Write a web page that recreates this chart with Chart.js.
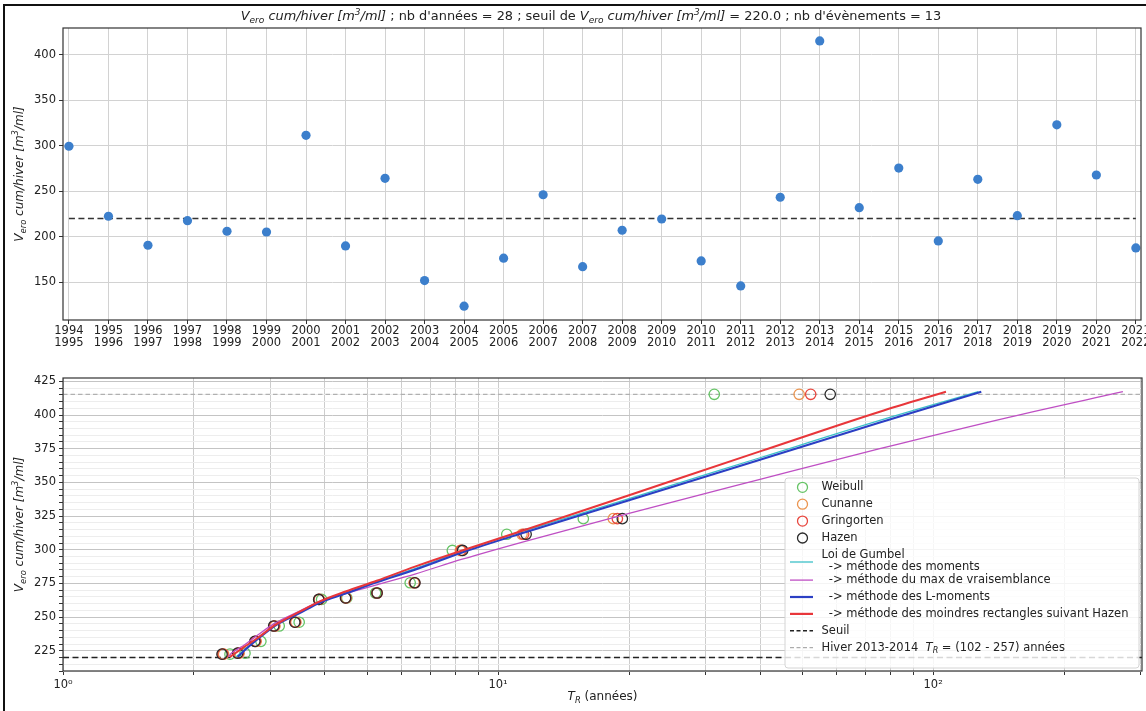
<!DOCTYPE html>
<html>
<head>
<meta charset="utf-8">
<script src="https://cdn.jsdelivr.net/npm/chart.js@4.4.1/dist/chart.umd.min.js"></script>
<style>
html, body { margin: 0; padding: 0; background: #fff; overflow: hidden; width: 1146px; height: 711px; }
#frame { position: absolute; left: 3px; top: 4px; width: 1200px; height: 800px; border-left: 2px solid #111; border-top: 2px solid #111; }
#top { position: absolute; left: 0; top: 0; }
#bot { position: absolute; left: 0; top: 350px; }
</style>
</head>
<body>
<div id="frame"></div>
<canvas id="top" width="1160" height="350"></canvas>
<canvas id="bot" width="1160" height="361"></canvas>
<script>
// hivers 1994-1995 ... 2021-2022
var years = [1994, 1995, 1996, 1997, 1998, 1999, 2000, 2001, 2002, 2003, 2004, 2005, 2006, 2007,
             2008, 2009, 2010, 2011, 2012, 2013, 2014, 2015, 2016, 2017, 2018, 2019, 2020, 2021];
var volumes = [299.5, 222.5, 190.6, 217.7, 206.0, 205.2, 311.5, 189.9, 264.2, 151.8, 123.6, 176.4, 246.2, 167.1,
               207.1, 219.5, 173.4, 145.9, 243.4, 415.4, 232.0, 275.5, 195.4, 263.1, 223.2, 323.1, 267.9, 187.7];
var seuil = 220.0;

// evenements au dessus du seuil, tries
var events = [415.4, 323.1, 311.5, 299.5, 275.5, 267.9, 264.2, 263.1, 246.2, 243.4, 232.0, 223.2, 222.5];
var trWeibull = [31.4, 15.7, 10.47, 7.85, 6.28, 5.23, 4.49, 3.93, 3.49, 3.14, 2.85, 2.62, 2.42];
var trCunnane = [49.2, 18.4, 11.35, 8.19, 6.41, 5.27, 4.47, 3.88, 3.43, 3.07, 2.78, 2.54, 2.34];
var trGringorten = [52.3, 18.8, 11.45, 8.23, 6.43, 5.27, 4.47, 3.88, 3.42, 3.06, 2.77, 2.53, 2.33];
var trHazen = [58.0, 19.3, 11.6, 8.29, 6.44, 5.27, 4.46, 3.87, 3.41, 3.05, 2.76, 2.52, 2.32];

// lois de Gumbel
var trMoments = [2.5, 2.65, 2.8, 3.07, 3.5, 3.88, 4.46, 5.26, 6.44, 8.27, 11.6, 20, 40, 75.4, 127];
var vMoments = [220.5, 227.5, 234, 244, 253.5, 261, 268, 276.5, 286, 299, 314.3, 338, 368.3, 396, 417.3];
var trMaxVrais = [2.4, 2.44, 2.59, 2.77, 3.07, 3.5, 3.88, 4.46, 5.26, 6.44, 8.27, 11.6, 20, 40, 75.4, 150, 273];
var vMaxVrais = [220.5, 223.3, 228.5, 235.5, 245.5, 254.5, 261.5, 267.5, 274, 282, 293, 306.5, 327, 352.2, 375, 398.5, 417.3];
var trLMoments = [2.52, 2.65, 2.8, 3.07, 3.5, 3.88, 4.46, 5.26, 6.44, 8.27, 11.6, 20, 40, 75.4, 129];
var vLMoments = [220.5, 227, 233.5, 243.5, 253, 260.5, 267.5, 275.8, 285.2, 298, 313.2, 336.8, 366.8, 394.5, 417.3];
var trHazenLS = [2.42, 2.6, 2.8, 3.07, 3.5, 3.88, 4.46, 5.26, 6.44, 8.27, 11.6, 20, 40, 75.4, 107];
var vHazenLS = [220.5, 227.5, 234.5, 244, 254, 261.5, 269, 277, 287.5, 299.5, 315, 340.5, 373, 402.5, 417.3];

var trRange = [102, 257];
var topTicks = [150, 200, 250, 300, 350, 400];
var logTicks = [1, 2, 3, 4, 5, 6, 7, 8, 9, 10, 20, 30, 40, 50, 60, 70, 80, 90, 100, 200, 300];

var FONT = '"DejaVu Sans", sans-serif';
var tickFont = { family: FONT, size: 11.5 };
var textCol = '#222';

function pts(xs, ys) { return xs.map(function(x, i) { return { x: x, y: ys[i] }; }); }

function fontFor(r, size) {
    var s = (r.sub || r.sup) ? size * 0.7 : size;
    return (r.it ? 'italic ' : '') + s + 'px ' + FONT;
}
function richWidth(ctx, runs, size) {
    var w = 0;
    runs.forEach(function(r) { ctx.font = fontFor(r, size); w += ctx.measureText(r.t).width; });
    return w;
}
function drawRich(ctx, runs, x, y, size, align) {
    var w = richWidth(ctx, runs, size);
    var cx = align === 'center' ? x - w / 2 : x;
    ctx.textBaseline = 'middle';
    ctx.textAlign = 'left';
    runs.forEach(function(r) {
        ctx.font = fontFor(r, size);
        var dy = r.sub ? size * 0.3 : (r.sup ? -size * 0.35 : 0);
        ctx.fillText(r.t, cx, y + dy);
        cx += ctx.measureText(r.t).width;
    });
}
var vLabel = [{ t: 'V', it: true }, { t: 'ero', it: true, sub: true }, { t: ' cum/hiver [m', it: true },
              { t: '3', it: true, sup: true }, { t: '/ml]', it: true }];

function drawBox(chart) {
    var a = chart.chartArea, ctx = chart.ctx;
    ctx.save();
    ctx.strokeStyle = '#333';
    ctx.lineWidth = 1.2;
    ctx.strokeRect(a.left, a.top, a.right - a.left, a.bottom - a.top);
    ctx.restore();
}

// ---------- graphe du haut ----------
var topPlugin = {
    id: 'topdeco',
    afterDraw: function(chart) {
        var ctx = chart.ctx, a = chart.chartArea;
        drawBox(chart);
        ctx.save();
        ctx.fillStyle = textCol;
        var title = vLabel.concat([{ t: " ; nb d'années = " + years.length + ' ; seuil de ' }])
            .concat(vLabel).concat([{ t: ' = ' + seuil.toFixed(1) + " ; nb d'évènements = " + events.length }]);
        drawRich(ctx, title, 591, 17, 12.9, 'center');
        ctx.translate(20, (a.top + a.bottom) / 2);
        ctx.rotate(-Math.PI / 2);
        drawRich(ctx, vLabel, 0, 0, 12, 'center');
        ctx.restore();
    }
};

new Chart(document.getElementById('top'), {
    type: 'scatter',
    data: {
        datasets: [{
            data: pts(years, volumes),
            backgroundColor: '#3c7fcc',
            borderColor: '#3c7fcc',
            pointRadius: 4.6,
            pointHoverRadius: 4.6,
            borderWidth: 0
        }, {
            type: 'line',
            data: [{ x: years[0], y: seuil }, { x: years[years.length - 1], y: seuil }],
            borderColor: '#333',
            borderWidth: 1.5,
            borderDash: [6, 3.5],
            pointRadius: 0,
            fill: false
        }]
    },
    options: {
        responsive: false,
        animation: false,
        layout: { padding: { left: 0, right: 19, top: 28, bottom: 0 } },
        plugins: { legend: { display: false }, tooltip: { enabled: false } },
        scales: {
            x: {
                type: 'linear', min: 1993.85, max: 2021.13,
                afterBuildTicks: function(s) { s.ticks = years.map(function(v) { return { value: v }; }); },
                afterFit: function(s) { s.height = 30; },
                ticks: {
                    autoSkip: false, maxRotation: 0, minRotation: 0, padding: 1,
                    font: { family: FONT, size: 11.5, lineHeight: 1.05 }, color: textCol,
                    callback: function(v) { return [String(v), String(v + 1)]; }
                },
                grid: { color: '#d2d2d2', tickLength: 4, tickColor: '#333' },
                border: { display: false }
            },
            y: {
                min: 108.4, max: 429.6,
                afterBuildTicks: function(s) { s.ticks = topTicks.map(function(v) { return { value: v }; }); },
                afterFit: function(s) { s.width = 63; },
                ticks: { font: tickFont, color: textCol, padding: 3 },
                grid: { color: '#d2d2d2', tickLength: 4, tickColor: '#333' },
                border: { display: false }
            }
        }
    },
    plugins: [topPlugin]
});

// ---------- graphe du bas ----------
var colWeibull = '#66c466', colCunnane = '#eb9550', colGringorten = '#e8473f', colHazen = '#2b2b2b';
var colMoments = '#3cc0c8', colMaxVrais = '#bf4fc4', colLMoments = '#2b3fc4', colHazenLS = '#e8363a';

function circles(xs, col) {
    return {
        data: pts(xs, events), showLine: false,
        pointStyle: 'circle', pointRadius: 5.2, pointHoverRadius: 5.2,
        pointBorderWidth: 1.3, pointBackgroundColor: 'rgba(0,0,0,0)', pointBorderColor: col,
        borderColor: col, backgroundColor: 'rgba(0,0,0,0)'
    };
}
function curve(xs, ys, col, w) {
    return {
        type: 'line', data: pts(xs, ys), borderColor: col, borderWidth: w,
        pointRadius: 0, fill: false, cubicInterpolationMode: 'monotone'
    };
}

var legendItems = [
    { kind: 'o', col: colWeibull, text: ['Weibull'] },
    { kind: 'o', col: colCunnane, text: ['Cunanne'] },
    { kind: 'o', col: colGringorten, text: ['Gringorten'] },
    { kind: 'o', col: colHazen, text: ['Hazen'] },
    { kind: '-', col: colMoments, w: 1.3, text: ['Loi de Gumbel', '  -> méthode des moments'] },
    { kind: '-', col: colMaxVrais, w: 1.3, text: ['  -> méthode du max de vraisemblance'] },
    { kind: '-', col: colLMoments, w: 2.2, text: ['  -> méthode des L-moments'] },
    { kind: '-', col: colHazenLS, w: 2.2, text: ['  -> méthode des moindres rectangles suivant Hazen'] },
    { kind: '--', col: '#222', w: 1.5, text: ['Seuil'] },
    { kind: '--', col: '#999', w: 1, text: ['Hiver 2013-2014'], tr: true }
];

var botPlugin = {
    id: 'botdeco',
    afterDraw: function(chart) {
        var ctx = chart.ctx, a = chart.chartArea;
        drawBox(chart);
        ctx.save();
        ctx.fillStyle = textCol;
        ctx.translate(20, (a.top + a.bottom) / 2);
        ctx.rotate(-Math.PI / 2);
        drawRich(ctx, vLabel, 0, 0, 12, 'center');
        ctx.restore();

        ctx.save();
        ctx.fillStyle = textCol;
        drawRich(ctx, [{ t: 'T', it: true }, { t: 'R', it: true, sub: true }, { t: ' (années)' }],
                 (a.left + a.right) / 2, 347, 12, 'center');
        ctx.restore();

        // legende
        var bx = 785, by = 128, bw = 354, bh = 190, rad = 3;
        ctx.save();
        ctx.beginPath();
        ctx.moveTo(bx + rad, by);
        ctx.arcTo(bx + bw, by, bx + bw, by + bh, rad);
        ctx.arcTo(bx + bw, by + bh, bx, by + bh, rad);
        ctx.arcTo(bx, by + bh, bx, by, rad);
        ctx.arcTo(bx, by, bx + bw, by, rad);
        ctx.closePath();
        ctx.fillStyle = 'rgba(255,255,255,0.82)';
        ctx.fill();
        ctx.strokeStyle = '#d4d4d4';
        ctx.lineWidth = 1;
        ctx.stroke();

        var y = 137.3, step = 16.9, tx = 821.5;
        legendItems.forEach(function(it) {
            var symY = it.text.length > 1 ? y + step * 0.42 : y;
            ctx.strokeStyle = it.col;
            if (it.kind === 'o') {
                ctx.lineWidth = 1.3;
                ctx.beginPath();
                ctx.arc(802.5, symY, 5, 0, Math.PI * 2);
                ctx.stroke();
            } else {
                ctx.lineWidth = it.w;
                ctx.setLineDash(it.kind === '--' ? [4, 2.5] : []);
                ctx.beginPath();
                ctx.moveTo(790, symY);
                ctx.lineTo(813, symY);
                ctx.stroke();
                ctx.setLineDash([]);
            }
            ctx.fillStyle = textCol;
            it.text.forEach(function(line, k) {
                var runs = [{ t: line }];
                if (it.tr) {
                    runs = runs.concat([{ t: '  ' }, { t: 'T', it: true }, { t: 'R', it: true, sub: true },
                        { t: ' = (' + trRange[0] + ' - ' + trRange[1] + ') années' }]);
                }
                drawRich(ctx, runs, tx, y + k * 12.6, 11.5, 'left');
            });
            y += it.text.length > 1 ? step + 12.6 - 4.3 : step;
        });
        ctx.restore();
    }
};

var xMin = 1, xMax = 302;
new Chart(document.getElementById('bot'), {
    type: 'scatter',
    data: {
        datasets: [
            curve(trHazenLS, vHazenLS, colHazenLS, 2.0),
            curve(trLMoments, vLMoments, colLMoments, 2.0),
            curve(trMaxVrais, vMaxVrais, colMaxVrais, 1.3),
            curve(trMoments, vMoments, colMoments, 1.3),
            circles(trHazen, colHazen),
            circles(trGringorten, colGringorten),
            circles(trCunnane, colCunnane),
            circles(trWeibull, colWeibull),
            {
                type: 'line', data: [{ x: xMin, y: seuil }, { x: xMax, y: seuil }],
                borderColor: '#222', borderWidth: 1.5, borderDash: [6, 3.5], pointRadius: 0, fill: false
            },
            {
                type: 'line', data: [{ x: xMin, y: events[0] }, { x: xMax, y: events[0] }],
                borderColor: '#a0a0a0', borderWidth: 1, borderDash: [4.5, 3], pointRadius: 0, fill: false
            }
        ]
    },
    options: {
        responsive: false,
        animation: false,
        layout: { padding: { left: 0, right: 18, top: 28, bottom: 0 } },
        plugins: { legend: { display: false }, tooltip: { enabled: false } },
        scales: {
            x: {
                type: 'logarithmic', min: xMin, max: xMax,
                afterBuildTicks: function(s) { s.ticks = logTicks.map(function(v) { return { value: v }; }); },
                afterFit: function(s) { s.height = 40; },
                ticks: {
                    autoSkip: false, maxRotation: 0, minRotation: 0, padding: 3,
                    font: tickFont, color: textCol,
                    callback: function(v) { return v === 1 ? '10⁰' : v === 10 ? '10¹' : v === 100 ? '10²' : ''; }
                },
                grid: { color: '#cdcdcd', tickLength: 4, tickColor: '#333' },
                border: { display: false }
            },
            y: {
                min: 210, max: 427.5,
                afterBuildTicks: function(s) {
                    var t = [];
                    for (var v = 210; v <= 425; v += 5) t.push({ value: v });
                    s.ticks = t;
                },
                afterFit: function(s) { s.width = 63; },
                ticks: {
                    autoSkip: false, font: tickFont, color: textCol, padding: 3,
                    callback: function(v) { return (v % 25 === 0 && v >= 225) ? String(v) : ''; }
                },
                grid: {
                    color: function(c) { return (c.tick && c.tick.value % 25 === 0) ? '#c4c4c4' : '#ededed'; },
                    tickLength: 4, tickColor: '#333'
                },
                border: { display: false }
            }
        }
    },
    plugins: [botPlugin]
});
</script>
</body>
</html>
